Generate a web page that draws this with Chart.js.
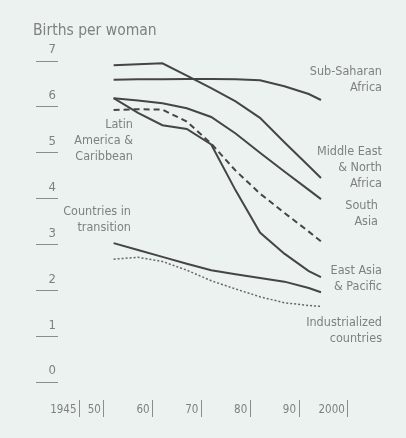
<!DOCTYPE html>
<html lang="en">
<head>
  <meta charset="UTF-8">
  <title>Births per woman</title>
  <script src="https://cdn.jsdelivr.net/npm/chart.js"></script>
  <style>
    html, body {
      margin: 0;
      padding: 0;
      background: #ecf2ef;
    }
    #wrap {
      width: 406px;
      height: 438px;
    }
  </style>
</head>
<body>
  <div id="wrap"><canvas id="tfr" width="406" height="438"></canvas></div>

  <script>
    // years (start of lines ~1952, end ~1995)
    const years = [1952, 1957, 1962, 1967, 1972, 1977, 1982, 1987, 1992, 1994.5];

    const subSaharan     = [6.59, 6.60, 6.60, 6.61, 6.61, 6.60, 6.58, 6.45, 6.28, 6.15];
    const middleEast     = [6.91, 6.93, 6.95, 6.68, 6.41, 6.12, 5.76, 5.23, 4.71, 4.45];
    const southAsia      = [6.19, 6.14, 6.08, 5.97, 5.78, 5.42, 5.00, 4.59, 4.19, 3.99];
    const eastAsia       = [6.19, 5.87, 5.60, 5.52, 5.18, 4.18, 3.26, 2.80, 2.42, 2.29];
    const latinAmerica   = [5.93, 5.95, 5.94, 5.68, 5.20, 4.61, 4.11, 3.69, 3.28, 3.07];
    const transition     = [3.03, 2.88, 2.73, 2.58, 2.44, 2.35, 2.27, 2.19, 2.05, 1.96];
    const industrialized = [2.68, 2.72, 2.63, 2.44, 2.21, 2.03, 1.86, 1.73, 1.67, 1.65];

    const yearTicks  = [1945, 1950, 1960, 1970, 1980, 1990, 2000];
    const yearLabels = ['1945', '50', '60', '70', '80', '90', '2000'];
    const valueTicks = [0, 1, 2, 3, 4, 5, 6, 7];

    const FONT = '"Liberation Sans Narrow", "DejaVu Sans Condensed", sans-serif';
    const INK = '#454545';
    const TEXT = '#7e8180';

    // series labels (right aligned text blocks)
    const notes = [
      { lines: ['Sub-Saharan', 'Africa'], x: 382, y: 72 },
      { lines: ['Middle East', '& North', 'Africa'], x: 382, y: 152 },
      { lines: ['South', 'Asia'], x: 378, y: 206 },
      { lines: ['East Asia', '& Pacific'], x: 382, y: 271 },
      { lines: ['Industrialized', 'countries'], x: 382, y: 323 },
      { lines: ['Latin', 'America &', 'Caribbean'], x: 133, y: 125 },
      { lines: ['Countries in', 'transition'], x: 131, y: 212 }
    ];

    function pts(arr) {
      return years.map((x, i) => ({ x: x, y: arr[i] }));
    }

    function line(label, arr, opts) {
      return Object.assign({
        label: label,
        data: pts(arr),
        borderColor: INK,
        borderWidth: 2,
        pointRadius: 0,
        tension: 0,
        fill: false
      }, opts || {});
    }

    const textPlugin = {
      id: 'texts',
      afterDraw(chart) {
        const ctx = chart.ctx;
        ctx.save();
        ctx.fillStyle = TEXT;
        ctx.textBaseline = 'middle';
        ctx.textAlign = 'left';
        ctx.font = '15.5px ' + FONT;
        ctx.fillText('Births per woman', 33, 31);

        ctx.font = '12.5px ' + FONT;
        ctx.textAlign = 'right';
        notes.forEach(n => {
          n.lines.forEach((t, i) => ctx.fillText(t, n.x, n.y + i * 16));
        });
        ctx.restore();
      }
    };

    new Chart(document.getElementById('tfr'), {
      type: 'line',
      data: {
        datasets: [
          line('Sub-Saharan Africa', subSaharan),
          line('Middle East & North Africa', middleEast),
          line('South Asia', southAsia),
          line('East Asia & Pacific', eastAsia),
          line('Latin America & Caribbean', latinAmerica, { borderDash: [6, 4] }),
          line('Countries in transition', transition),
          line('Industrialized countries', industrialized, { borderDash: [2, 2], borderWidth: 1.5, borderColor: '#666' })
        ]
      },
      options: {
        responsive: false,
        devicePixelRatio: 1,
        animation: false,
        layout: { padding: { top: 61, right: 46, left: 0, bottom: 0 } },
        plugins: {
          legend: { display: false },
          title: { display: false },
          tooltip: { enabled: false }
        },
        scales: {
          x: {
            type: 'linear',
            min: 1940.6,
            max: 2002.5,
            afterBuildTicks: s => { s.ticks = yearTicks.map(v => ({ value: v })); },
            afterFit: s => { s.height = 38; },
            border: { display: false },
            grid: { drawOnChartArea: false, drawTicks: true, tickLength: 17, color: '#8a8d8c', lineWidth: 1 },
            ticks: {
              callback: (v, i) => yearLabels[i],
              align: 'end',
              labelOffset: -3,
              padding: -14,
              maxRotation: 0,
              autoSkip: false,
              color: TEXT,
              font: { family: FONT, size: 11.5 }
            }
          },
          y: {
            min: -0.39,
            max: 7,
            afterBuildTicks: s => { s.ticks = valueTicks.map(v => ({ value: v })); },
            afterFit: s => { s.width = 58; },
            border: { display: false },
            grid: { drawOnChartArea: false, drawTicks: true, tickLength: 22, color: '#8a8d8c', lineWidth: 1 },
            ticks: {
              crossAlign: 'near',
              padding: -20,
              labelOffset: -11,
              color: TEXT,
              font: { family: FONT, size: 13 }
            }
          }
        }
      },
      plugins: [textPlugin]
    });
  </script>
</body>
</html>
